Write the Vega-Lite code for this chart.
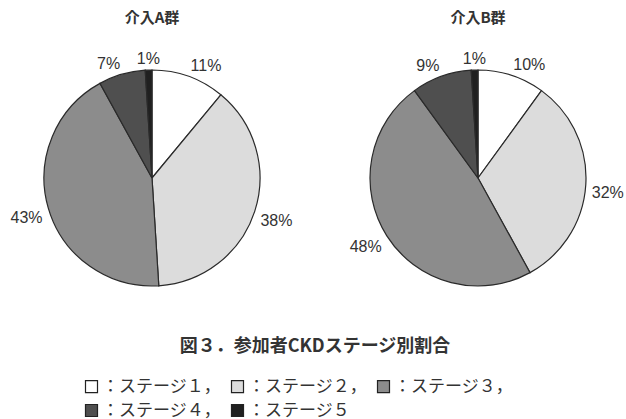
{
  "$schema": "https://vega.github.io/schema/vega-lite/v6.json",
  "background": "white",
  "padding": {"left": 4, "top": 11, "right": 0, "bottom": 0},
  "data": {
    "values": [
      {"group": "介入A群", "stage": "ステージ１", "pct": 0.11},
      {"group": "介入A群", "stage": "ステージ２", "pct": 0.38},
      {"group": "介入A群", "stage": "ステージ３", "pct": 0.43},
      {"group": "介入A群", "stage": "ステージ４", "pct": 0.07},
      {"group": "介入A群", "stage": "ステージ５", "pct": 0.01},
      {"group": "介入B群", "stage": "ステージ１", "pct": 0.10},
      {"group": "介入B群", "stage": "ステージ２", "pct": 0.32},
      {"group": "介入B群", "stage": "ステージ３", "pct": 0.48},
      {"group": "介入B群", "stage": "ステージ４", "pct": 0.09},
      {"group": "介入B群", "stage": "ステージ５", "pct": 0.01}
    ]
  },
  "facet": {
    "column": {
      "field": "group",
      "type": "nominal",
      "title": "図３．参加者CKDステージ別割合",
      "sort": ["介入A群", "介入B群"],
      "header": {
        "labelOrient": "top",
        "labelFont": "Noto Sans CJK JP",
        "labelFontSize": 15,
        "labelFontWeight": "bold",
        "labelColor": "#333333",
        "labelPadding": 25,
        "titleOrient": "bottom",
        "titleFont": "Noto Sans CJK JP",
        "titleFontSize": 18,
        "titleFontWeight": "bold",
        "titleColor": "#333333",
        "titlePadding": 25
      }
    }
  },
  "spacing": 30,
  "spec": {
    "width": 296,
    "height": 250,
    "encoding": {
      "theta": {"field": "pct", "type": "quantitative", "stack": true},
      "order": {"field": "stage", "type": "ordinal"}
    },
    "layer": [
      {
        "mark": {"type": "arc", "outerRadius": 108, "stroke": "#2a2a2a", "strokeWidth": 1.2},
        "encoding": {
          "color": {
            "field": "stage",
            "type": "nominal",
            "scale": {
              "domain": ["ステージ１", "ステージ２", "ステージ３", "ステージ４", "ステージ５"],
              "range": ["#ffffff", "#dcdcdc", "#8c8c8c", "#4f4f4f", "#202020"]
            },
            "legend": {
              "orient": "none",
              "legendX": 79,
              "legendY": 325,
              "direction": "horizontal",
              "columns": 3,
              "title": null,
              "symbolType": "square",
              "symbolSize": 144,
              "symbolStrokeColor": "#222222",
              "symbolStrokeWidth": 1.2,
              "labelFont": "Noto Sans CJK JP",
              "labelFontSize": 17,
              "labelColor": "#333333",
              "labelLimit": 300,
              "labelOffset": 2,
              "columnPadding": 8,
              "rowPadding": 6,
              "labelExpr": "'：' + datum.label + (datum.value == 'ステージ５' ? '' : '，')"
            }
          }
        }
      },
      {
        "mark": {
          "type": "text",
          "radius": 114,
          "font": "Liberation Sans",
          "fontSize": 16,
          "color": "#333333",
          "align": {"expr": "sin(PI * (datum.pct_start + datum.pct_end)) > 0.2 ? 'left' : sin(PI * (datum.pct_start + datum.pct_end)) < -0.2 ? 'right' : 'center'"},
          "baseline": {"expr": "cos(PI * (datum.pct_start + datum.pct_end)) < -0.05 ? 'top' : cos(PI * (datum.pct_start + datum.pct_end)) > 0.05 ? 'alphabetic' : 'middle'"}
        },
        "encoding": {
          "text": {"field": "pct", "type": "quantitative", "format": ".0%"}
        }
      }
    ]
  },
  "config": {
    "view": {"stroke": null}
  }
}
